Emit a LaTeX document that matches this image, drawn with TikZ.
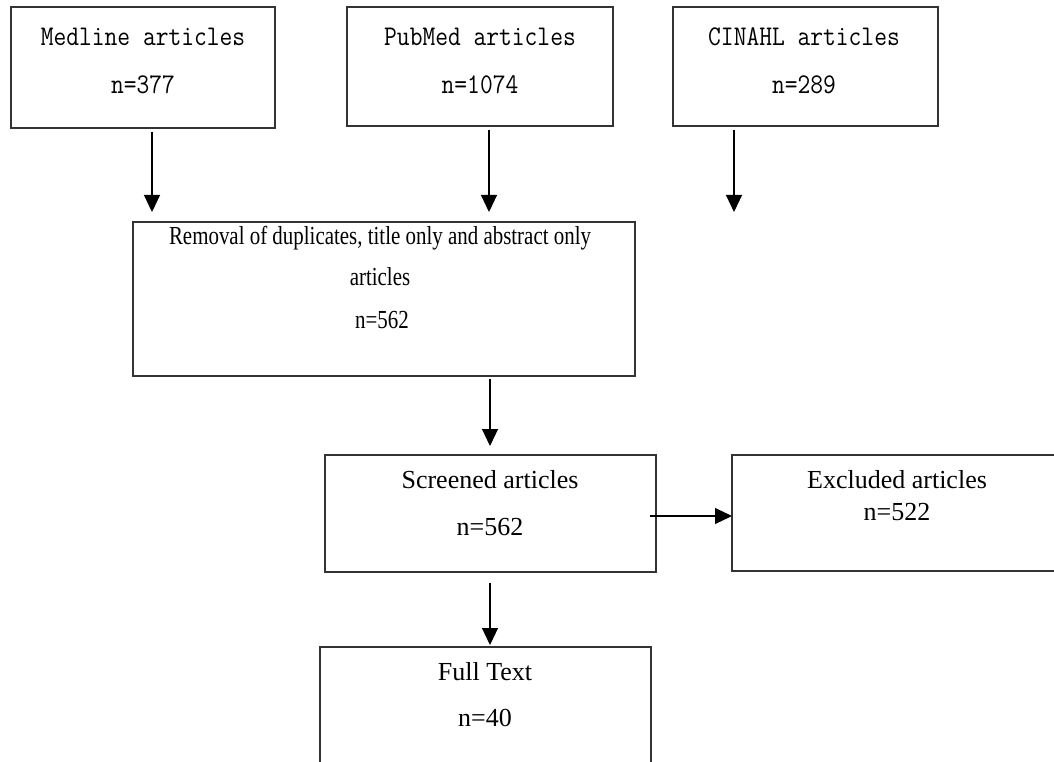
\documentclass[tikz,border=0pt]{standalone}
\usepackage{fontspec}
\newfontfamily\tnr{Liberation Serif}
\usetikzlibrary{arrows.meta}
\newcommand{\tallmono}[1]{\scalebox{1}[1.15]{#1}}
\newcommand{\narrowser}[1]{\scalebox{0.805}[1]{#1}}
\tikzset{
  box/.style={draw=black!80, line width=1.3pt, rectangle, inner sep=0pt},
  monotxt/.style={inner sep=0pt, font=\ttfamily\fontsize{24.8}{28}\selectfont},
  sertxt/.style={inner sep=0pt, font=\tnr\fontsize{26}{30}\selectfont},
  arr/.style={line width=1.1pt, -{Triangle[length=17pt,width=16pt]}}
}
\begin{document}
\begin{tikzpicture}[x=1pt,y=-1pt]
\useasboundingbox (0,0) rectangle (1054,762);
% boxes
\node[box, minimum width=264pt, minimum height=121pt] (med) at (143,67.5) {};
\node[box, minimum width=266pt, minimum height=119pt] (pub) at (480,66.5) {};
\node[box, minimum width=265pt, minimum height=119pt] (cin) at (805.5,66.5) {};
\node[box, minimum width=502pt, minimum height=154pt] (rem) at (384,299) {};
\node[box, minimum width=331pt, minimum height=117pt] (scr) at (490.5,513.5) {};
\node[box, minimum width=340pt, minimum height=116pt] (exc) at (902,513) {};
\node[box, minimum width=331pt, minimum height=220pt] (ful) at (485.5,757) {};
% texts
\node[monotxt] (medt) at (143,37) {\tallmono{Medline articles}};
\node[monotxt] (medn) at (143,85) {\tallmono{n=377}};
\node[monotxt] (pubt) at (480,37) {\tallmono{PubMed articles}};
\node[monotxt] (pubn) at (480,85) {\tallmono{n=1074}};
\node[monotxt] (cint) at (804,37) {\tallmono{CINAHL articles}};
\node[monotxt] (cinn) at (804,85) {\tallmono{n=289}};
\node[sertxt] (remt) at (380,238) {\narrowser{Removal of duplicates, title only and abstract only}};
\node[sertxt] (remt2) at (380,277) {\narrowser{articles}};
\node[sertxt] (remn) at (382,320) {\narrowser{n=562}};
\node[sertxt] (scrt) at (490,480) {Screened articles};
\node[sertxt] (scrn) at (490,527) {n=562};
\node[sertxt] (exct) at (897,480) {Excluded articles};
\node[sertxt] (excn) at (897,512) {n=522};
\node[sertxt] (fult) at (485,672) {Full Text};
\node[sertxt] (fuln) at (485,718) {n=40};
% arrow tips
\coordinate (t1) at (152,212);
\coordinate (t2) at (489,212);
\coordinate (t3) at (734,212);
\coordinate (t4) at (490,446);
\coordinate (t5) at (732,516);
\coordinate (t6) at (490,645);
\coordinate (s5) at (650,516);
\draw[arr] ([yshift=-3pt]med.south -| t1) -- (t1);
\draw[arr] ([yshift=-3pt]pub.south -| t2) -- (t2);
\draw[arr] ([yshift=-3pt]cin.south -| t3) -- (t3);
\draw[arr] ([yshift=-2pt]rem.south -| t4) -- (t4);
\draw[arr] (s5) -- (t5);
\draw[arr] ([yshift=-10pt]scr.south -| t6) -- (t6);
\end{tikzpicture}
\end{document}
